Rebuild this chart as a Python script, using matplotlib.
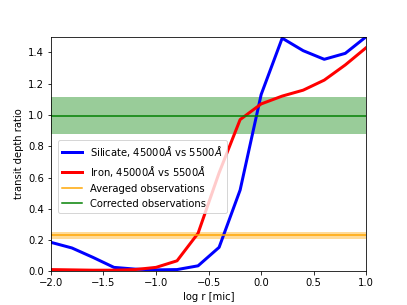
import numpy as np
import matplotlib
matplotlib.use("Agg")
import matplotlib.pyplot as plt

log_r = np.round(np.arange(-2.0, 1.01, 0.2), 1)
silicate = [0.186, 0.15, 0.09, 0.026, 0.015, 0.01, 0.012, 0.036, 0.154, 0.52,
            1.13, 1.49, 1.41, 1.355, 1.393, 1.50]
iron = [0.012, 0.01, 0.008, 0.008, 0.012, 0.026, 0.068, 0.244, 0.63, 0.97,
        1.07, 1.12, 1.158, 1.222, 1.319, 1.43]

avg_obs, avg_lo, avg_hi = 0.233, 0.208, 0.254
cor_obs, cor_lo, cor_hi = 0.995, 0.876, 1.114

dpi = 72
fig = plt.figure(figsize=(407 / dpi, 305 / dpi), dpi=dpi)
ax = fig.add_subplot(111)

ax.plot(log_r, silicate, color='blue', lw=3,
        label=r'Silicate, 45000$\AA$ vs 5500$\AA$')
ax.plot(log_r, iron, color='red', lw=3,
        label=r'Iron, 45000$\AA$ vs 5500$\AA$')
ax.axhline(avg_obs, color='orange', lw=1.5, label='Averaged observations')
ax.axhspan(avg_lo, avg_hi, color='orange', alpha=0.4, lw=0)
ax.axhline(cor_obs, color='green', lw=1.5, label='Corrected observations')
ax.axhspan(cor_lo, cor_hi, color='green', alpha=0.4, lw=0)

ax.set_xlim(-2, 1)
ax.set_ylim(0, 1.5)
ax.set_xlabel('log r [mic]')
ax.set_ylabel('transit depth ratio')
ax.legend(loc='lower left', bbox_to_anchor=(0.023, 0.25), borderaxespad=0)

fig.savefig('out.png', dpi=dpi)
